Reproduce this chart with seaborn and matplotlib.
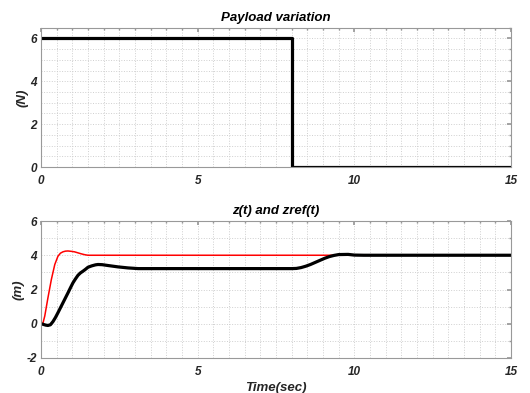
import matplotlib
matplotlib.use("Agg")
import matplotlib.pyplot as plt
import seaborn as sns
import pandas as pd
from matplotlib.ticker import MultipleLocator

# Payload variation (step)
t_load = [0, 8, 8, 15]
payload = [6, 6, 0, 0]

# Reference trajectory zref(t)
t_ref = [0, 0.06, 0.12, 0.22, 0.33, 0.44, 0.54, 0.62, 0.70, 0.78, 0.86, 0.96, 1.07, 1.18, 1.29, 1.40, 1.50, 1.70, 15]
zref = [0, 0.02, 0.45, 1.5, 2.58, 3.46, 3.94, 4.12, 4.2, 4.24, 4.25, 4.23, 4.2, 4.14, 4.08, 4.03, 4.0, 4.0, 4.0]

# Output z(t)
t_z = [0, 0.08, 0.15, 0.22, 0.30, 0.38, 0.46, 0.54, 0.62, 0.70, 0.78, 0.86, 0.94, 1.02, 1.10, 1.18, 1.26, 1.34,
       1.42, 1.50, 1.62, 1.74, 1.82, 1.95, 2.14, 2.30, 2.46, 2.62, 2.78, 2.94, 3.10, 8.0, 8.15, 8.3, 8.45, 8.6,
       8.75, 8.9, 9.05, 9.2, 9.35, 9.5, 9.8, 10.0, 10.3, 15]
z = [0, -0.04, -0.08, -0.1, -0.06, 0.12, 0.36, 0.64, 0.93, 1.22, 1.51, 1.80, 2.10, 2.39, 2.62, 2.83, 2.97, 3.07,
     3.18, 3.30, 3.38, 3.44, 3.46, 3.45, 3.40, 3.36, 3.32, 3.29, 3.26, 3.24, 3.22, 3.22, 3.23, 3.28, 3.36, 3.46,
     3.58, 3.70, 3.82, 3.92, 3.99, 4.04, 4.05, 4.01, 4.0, 4.0]

sns.set_theme(style="white")
plt.rcParams['font.family'] = ['Liberation Sans', 'DejaVu Sans']
plt.rcParams['font.weight'] = 'bold'
plt.rcParams['font.style'] = 'italic'
plt.rcParams['axes.unicode_minus'] = False

fig = plt.figure(figsize=(5.3, 3.93), dpi=100)
ax1 = fig.add_axes([41/530, 1 - 167/393, 470/530, 139.3/393])
ax2 = fig.add_axes([41/530, 1 - 358/393, 470/530, 137/393])

df_load = pd.DataFrame({"t": t_load, "v": payload})
df_ref = pd.DataFrame({"t": t_ref, "v": zref})
df_z = pd.DataFrame({"t": t_z, "v": z})

sns.lineplot(data=df_load, x="t", y="v", ax=ax1, color="black", linewidth=2.3,
             estimator=None, sort=False)
sns.lineplot(data=df_ref, x="t", y="v", ax=ax2, color="#ff0000", linewidth=1.1,
             estimator=None, sort=False)
sns.lineplot(data=df_z, x="t", y="v", ax=ax2, color="black", linewidth=2.3,
             estimator=None, sort=False)

tick_color = "#262626"
for ax in (ax1, ax2):
    ax.set_xlim(0, 15)
    ax.xaxis.set_major_locator(MultipleLocator(5))
    ax.xaxis.set_minor_locator(MultipleLocator(0.5))
    ax.grid(True, which="both", linestyle=":", color="#cfcfcf", linewidth=0.7)
    ax.set_axisbelow(True)
    for s in ax.spines.values():
        s.set_color("#999999")
        s.set_linewidth(0.8)
    ax.tick_params(which="both", direction="in", top=True, right=True, color="#999999",
                   labelsize=8.5, labelcolor=tick_color)
    ax.tick_params(axis="x", which="both", pad=5.5)
    ax.tick_params(axis="y", which="both", pad=3)
    ax.tick_params(which="major", length=3)
    ax.tick_params(which="minor", length=1.5)
    for lab in ax.get_xticklabels() + ax.get_yticklabels():
        lab.set_fontweight("bold")
        lab.set_fontstyle("italic")

ax1.set_ylim(0, 6.5)
ax1.yaxis.set_major_locator(MultipleLocator(2))
ax1.yaxis.set_minor_locator(MultipleLocator(0.5))
ax1.set_xlabel("")
ax1.set_ylabel("(N)", fontsize=9.5, fontweight="bold", fontstyle="italic", color=tick_color, labelpad=1.5)
ax1.set_title("Payload variation", fontsize=9.5, fontweight="bold", fontstyle="italic", color="black", pad=5)

ax2.set_ylim(-2, 6)
ax2.yaxis.set_major_locator(MultipleLocator(2))
ax2.yaxis.set_minor_locator(MultipleLocator(1))
ax2.set_xlabel("Time(sec)", fontsize=9.5, fontweight="bold", fontstyle="italic", color=tick_color, labelpad=3)
ax2.set_ylabel("(m)", fontsize=9.5, fontweight="bold", fontstyle="italic", color=tick_color, labelpad=1.5)
ax2.set_title("z(t) and zref(t)", fontsize=9.5, fontweight="bold", fontstyle="italic", color="black", pad=5)

fig.savefig("out.png", dpi=100)
